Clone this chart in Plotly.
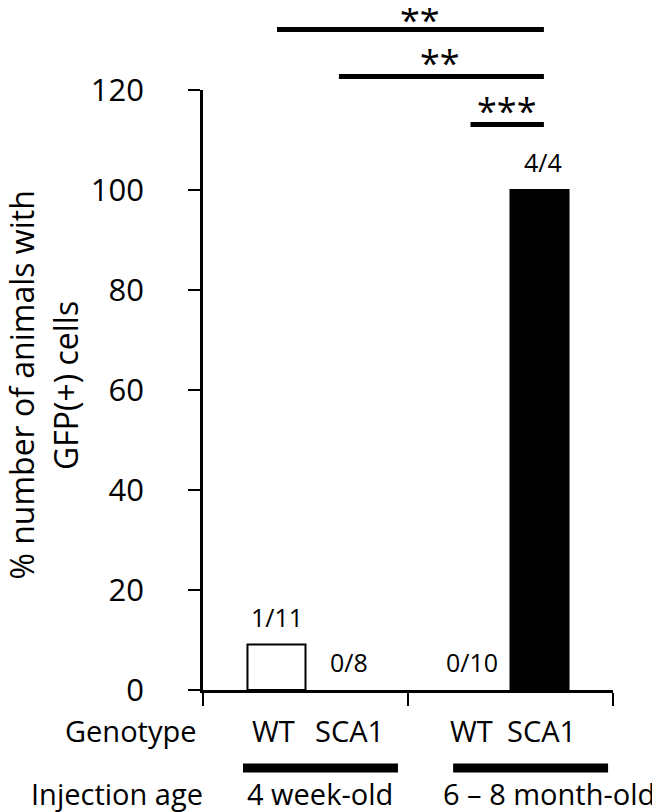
import plotly.graph_objects as go

# data
ages = ["4 week-old", "6 – 8 month-old"]
wt_pct = [9.09, 0]        # 1/11, 0/10
sca1_pct = [0, 100]       # 0/8, 4/4
count_labels = ["1/11", "0/8", "0/10", "4/4"]
genotypes = ["WT", "SCA1", "WT", "SCA1"]
sig_marks = ["**", "**", "***"]
y_ticks = [0, 20, 40, 60, 80, 100, 120]

FONT = "Open Sans"
Y_MAX = 120


def outline(vals):
    # no outline on empty bars, so they vanish into the axis
    return [2 if v > 0 else 0 for v in vals]


fig = go.Figure()
fig.add_trace(go.Bar(
    x=ages, y=wt_pct, name="WT",
    marker=dict(color="white", line=dict(color="black", width=outline(wt_pct))),
))
fig.add_trace(go.Bar(
    x=ages, y=sca1_pct, name="SCA1",
    marker=dict(color="black", line=dict(color="black", width=outline(sca1_pct))),
))

annotations = []

# n/N labels above the bars
count_pos = [(-0.139, 14.6), (0.213, 5.6), (0.81, 5.6), (1.16, 105.6)]
for txt, (px, py) in zip(count_labels, count_pos):
    annotations.append(dict(x=px, y=py, xref="x", yref="y", text=txt,
                            showarrow=False, font=dict(size=25)))

# genotype row
geno_x = [-0.156, 0.215, 0.81, 1.152]
for txt, px in zip(genotypes, geno_x):
    annotations.append(dict(x=px, y=-0.0667, xref="x", yref="paper", text=txt,
                            showarrow=False, yanchor="middle", font=dict(size=29)))

annotations.append(dict(x=-0.01, y=-0.0667, xref="paper", yref="paper",
                        text="Genotype", showarrow=False, xanchor="right",
                        yanchor="middle", font=dict(size=29)))
annotations.append(dict(x=0.005, y=-0.172, xref="paper", yref="paper",
                        text="Injection age", showarrow=False, xanchor="right",
                        yanchor="middle", font=dict(size=29)))

# injection age groups with bars above
group_span = [(-0.305, 0.451), (0.72, 1.476)]
group_x = [0.07, 1.19]
shapes = []
for txt, (x0, x1), gx in zip(ages, group_span, group_x):
    shapes.append(dict(type="line", xref="x", yref="paper", x0=x0, x1=x1,
                       y0=-0.13, y1=-0.13, line=dict(color="black", width=9)))
    annotations.append(dict(x=gx, y=-0.172, xref="x", yref="paper", text=txt,
                            showarrow=False, yanchor="middle", font=dict(size=29)))

# significance bars
sig_levels = [132.1, 122.7, 113.1]
sig_span = [(-0.139, 1.163), (0.163, 1.163), (0.805, 1.163)]
sig_text_x = [0.558, 0.656, 0.98]
sig_text_dy = [0.017, 0.024, 0.024]
for mark, lvl, (x0, x1), tx, dy in zip(sig_marks, sig_levels, sig_span,
                                       sig_text_x, sig_text_dy):
    shapes.append(dict(type="line", xref="x", yref="paper", x0=x0, x1=x1,
                       y0=lvl / Y_MAX, y1=lvl / Y_MAX,
                       line=dict(color="black", width=5)))
    annotations.append(dict(x=tx, y=lvl / Y_MAX + dy, xref="x", yref="paper",
                            text=mark, showarrow=False, yanchor="middle",
                            font=dict(size=36)))

# y-axis title, two lines placed separately
title_lines = ["% number of animals with", "GFP(+) cells"]
title_x = [-0.443, -0.337]
for txt, tx in zip(title_lines, title_x):
    annotations.append(dict(x=tx, y=0.508, xref="paper", yref="paper",
                            text=txt, textangle=-90, showarrow=False,
                            xanchor="center", yanchor="middle",
                            font=dict(size=32)))

# page body adds an 8px offset, so the figure is 8px smaller and shifted
fig.update_layout(
    width=652, height=804,
    margin=dict(l=195, r=47, t=82, b=122),
    paper_bgcolor="white", plot_bgcolor="white",
    font=dict(family=FONT, color="black"),
    barmode="group", bargap=0.434, bargroupgap=0,
    showlegend=False,
    annotations=annotations,
    shapes=shapes,
)
fig.update_xaxes(
    range=[-0.5, 1.5], showticklabels=False, showgrid=False, zeroline=False,
    showline=True, linecolor="black", linewidth=2.5,
    ticks="outside", tickson="boundaries", ticklen=13, tickwidth=2, tickcolor="black",
)
fig.update_yaxes(
    range=[0, Y_MAX], tickvals=y_ticks, showgrid=False, zeroline=False,
    showline=True, linecolor="black", linewidth=2.5,
    ticks="outside", ticklen=12, tickwidth=2, tickcolor="black",
    ticklabelstandoff=38, tickfont=dict(size=31),
)

fig.write_html("out.html")
